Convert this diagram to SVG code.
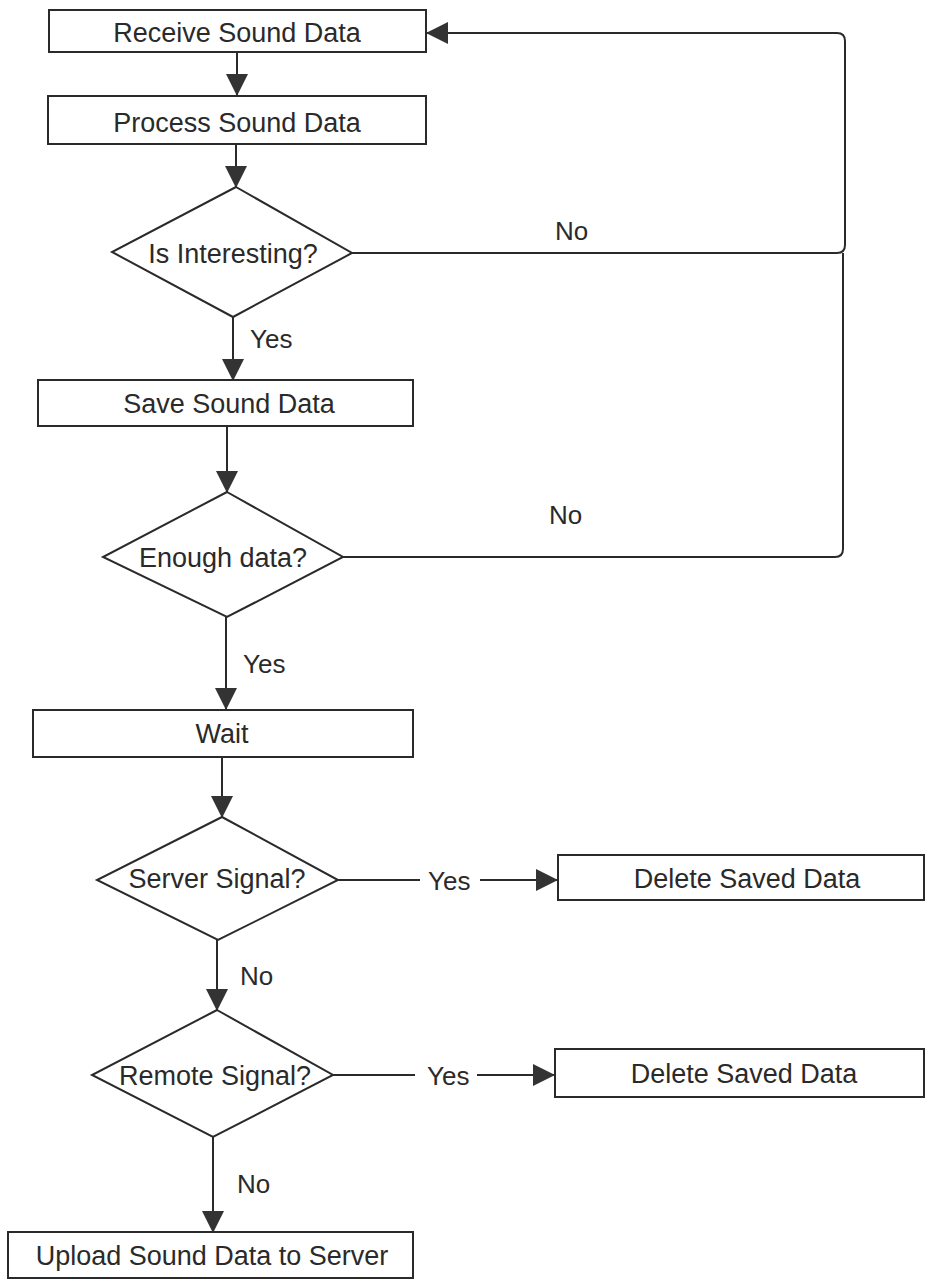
<svg xmlns="http://www.w3.org/2000/svg" width="925" height="1281" viewBox="0 0 925 1281">
<defs>
<style>
.box{fill:#fff;stroke:#2a2a2a;stroke-width:2}
.dia{fill:#fff;stroke:#2a2a2a;stroke-width:2}
.ln{fill:none;stroke:#2a2a2a;stroke-width:2}
.t{font-family:"Liberation Sans",Arial,sans-serif;font-size:27px;fill:#2a2a2a;text-anchor:middle}
.lb{font-family:"Liberation Sans",Arial,sans-serif;font-size:26px;fill:#2a2a2a}
</style>
<marker id="ah" markerUnits="userSpaceOnUse" markerWidth="22" markerHeight="22" refX="21" refY="11" orient="auto">
<path d="M0,0 L22,11 L0,22 z" fill="#333"/>
</marker>
</defs>
<rect width="925" height="1281" fill="#fff"/>
<g id="connectors">
<line class="ln" x1="237" y1="52" x2="237" y2="95" marker-end="url(#ah)"/>
<line class="ln" x1="236" y1="144" x2="236" y2="187" marker-end="url(#ah)"/>
<line class="ln" x1="233" y1="317" x2="233" y2="380" marker-end="url(#ah)"/>
<line class="ln" x1="227" y1="426" x2="227" y2="492" marker-end="url(#ah)"/>
<line class="ln" x1="226" y1="617" x2="226" y2="709" marker-end="url(#ah)"/>
<line class="ln" x1="222" y1="757" x2="222" y2="817" marker-end="url(#ah)"/>
<line class="ln" x1="217" y1="940" x2="217" y2="1010" marker-end="url(#ah)"/>
<line class="ln" x1="213" y1="1137" x2="213" y2="1232" marker-end="url(#ah)"/>
<path class="ln" d="M352,253 H837 Q845,253 845,245 V41 Q845,33 837,33 H427" marker-end="url(#ah)"/>
<path class="ln" d="M343,557 H835 Q843,557 843,549 V253"/>
<line class="ln" x1="338" y1="880" x2="420" y2="880"/>
<line class="ln" x1="480" y1="880" x2="557" y2="880" marker-end="url(#ah)"/>
<line class="ln" x1="333" y1="1075" x2="415" y2="1075"/>
<line class="ln" x1="477" y1="1075" x2="554" y2="1075" marker-end="url(#ah)"/>
<text class="lb" x="555" y="240">No</text>
<text class="lb" x="549" y="524">No</text>
<text class="lb" x="250" y="348">Yes</text>
<text class="lb" x="243" y="673">Yes</text>
<text class="lb" x="240" y="985">No</text>
<text class="lb" x="237" y="1193">No</text>
<text class="lb" x="428" y="890">Yes</text>
<text class="lb" x="427" y="1085">Yes</text>
</g>
<g id="receive">
<rect class="box" x="49" y="10" width="377" height="42"/>
<text class="t" x="237" y="42">Receive Sound Data</text>
</g>
<g id="process">
<rect class="box" x="48" y="96" width="378" height="48"/>
<text class="t" x="237" y="132">Process Sound Data</text>
</g>
<g id="interesting">
<polygon class="dia" points="236,187 352,253 233,317 112,252"/>
<text class="t" x="233" y="263">Is Interesting?</text>
</g>
<g id="save">
<rect class="box" x="38" y="380" width="375" height="46"/>
<text class="t" x="229" y="413">Save Sound Data</text>
</g>
<g id="enough">
<polygon class="dia" points="227,492 343,557 227,617 103,557"/>
<text class="t" x="223" y="567">Enough data?</text>
</g>
<g id="wait">
<rect class="box" x="33" y="710" width="380" height="47"/>
<text class="t" x="222" y="743">Wait</text>
</g>
<g id="server">
<polygon class="dia" points="222,817 338,880 218,940 97,880"/>
<text class="t" x="217" y="888">Server Signal?</text>
</g>
<g id="delete1">
<rect class="box" x="558" y="855" width="366" height="45"/>
<text class="t" x="747" y="888">Delete Saved Data</text>
</g>
<g id="remote">
<polygon class="dia" points="217,1010 333,1075 213,1137 92,1075"/>
<text class="t" x="215" y="1085">Remote Signal?</text>
</g>
<g id="delete2">
<rect class="box" x="555" y="1049" width="369" height="48"/>
<text class="t" x="744" y="1083">Delete Saved Data</text>
</g>
<g id="upload">
<rect class="box" x="8" y="1232" width="405" height="46"/>
<text class="t" x="212" y="1265">Upload Sound Data to Server</text>
</g>
</svg>
